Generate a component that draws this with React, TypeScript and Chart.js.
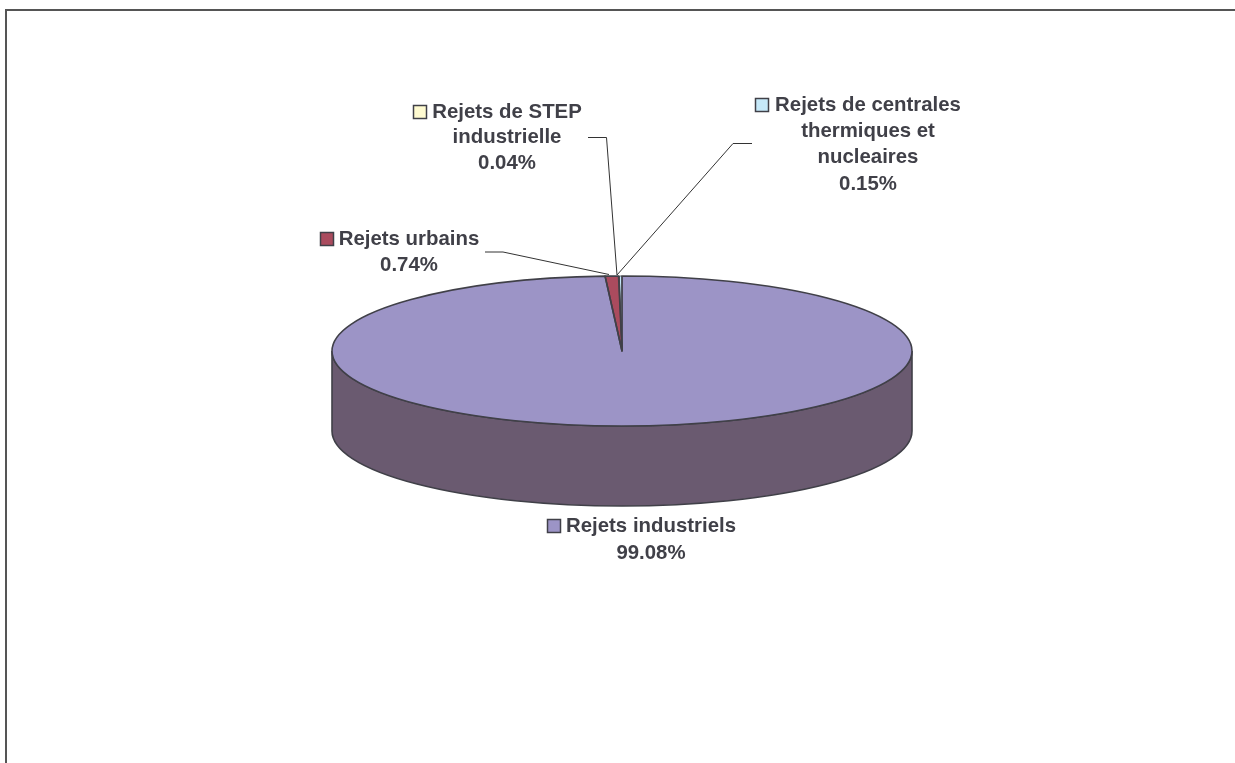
import React, { useEffect, useRef } from "react";
import { Chart, registerables } from "chart.js";

Chart.register(...registerables);

const categories = ["Rejets industriels", "Rejets urbains", "Rejets de STEP industrielle", "Rejets de centrales thermiques et nucleaires"];
const values = [99.08, 0.74, 0.04, 0.15];
const sliceColors = ["#9C94C6", "#AA4B5E", "#FFFBD1", "#C6E9F9"];
const sideColors = ["#6A5A70", "#6B2F3B", "#A09E84", "#7D939D"];
const labelLines = [
  ["Rejets industriels", "99.08%"],
  ["Rejets urbains", "0.74%"],
  ["Rejets de STEP", "industrielle", "0.04%"],
  ["Rejets de centrales", "thermiques et", "nucleaires", "0.15%"],
];

const CX = 622, CY = 351, RX = 290, RY = 75, DEPTH = 80;
const EDGE = "#404048";
const TEXT = "#404048";
const FONT = 'bold 20.4px "Liberation Sans"';
const labelLayout = [
  { cx: 651, y: 526, step: 27, keyX: 547 },
  { cx: 409, y: 239, step: 26, keyX: 320 },
  { cx: 507, y: 112, step: 25.5, keyX: 413 },
  { cx: 868, y: 105, step: 26.3, keyX: 755 },
];
const leaders = [
  null,
  [[485, 252], [503, 252], [609, 274.5]],
  [[588, 137.5], [606.5, 137.5], [617, 275]],
  [[752, 143.5], [733, 143.5], [617, 275]],
];

const piePlugin = {
  id: "flatPie",
  beforeDraw(chart: any) {
    const ctx = chart.ctx;
    ctx.save();
    ctx.fillStyle = "#ffffff";
    ctx.fillRect(0, 0, chart.width, chart.height);
    ctx.strokeStyle = "#555555";
    ctx.lineWidth = 2;
    ctx.beginPath();
    ctx.moveTo(6, 763);
    ctx.lineTo(6, 10);
    ctx.lineTo(1235, 10);
    ctx.stroke();
    ctx.restore();
  },
  beforeDatasetsDraw(chart: any) {
    const ctx = chart.ctx;
    // extruded rim, drawn from each slice's own angles
    chart.getDatasetMeta(0).data.forEach((arc: any, i: number) => {
      const a0 = Math.max(arc.startAngle, 0);
      const a1 = Math.min(arc.endAngle, Math.PI);
      if (a1 <= a0) return;
      ctx.save();
      ctx.beginPath();
      ctx.ellipse(CX, CY, RX, RY, 0, a0, a1, false);
      ctx.ellipse(CX, CY + DEPTH, RX, RY, 0, a1, a0, true);
      ctx.closePath();
      ctx.fillStyle = sideColors[i];
      ctx.fill();
      ctx.strokeStyle = EDGE;
      ctx.lineWidth = 1.6;
      ctx.stroke();
      ctx.restore();
    });
    ctx.save();
    ctx.translate(CX, CY);
    ctx.scale(1, RY / RX);
    ctx.translate(-CX, -CY);
  },
  afterDatasetsDraw(chart: any) {
    const ctx = chart.ctx;
    ctx.restore();
    const arcs = chart.getDatasetMeta(0).data;
    // slice outlines at an even pen width
    arcs.forEach((arc: any) => {
      ctx.save();
      ctx.beginPath();
      ctx.moveTo(CX, CY);
      ctx.ellipse(CX, CY, RX, RY, 0, arc.startAngle, arc.endAngle, false);
      ctx.closePath();
      ctx.strokeStyle = EDGE;
      ctx.lineWidth = arc.endAngle - arc.startAngle < 0.02 ? 0.8 : 1.6;
      ctx.lineJoin = "round";
      ctx.stroke();
      ctx.restore();
    });
    // leader lines
    ctx.save();
    ctx.strokeStyle = "#333333";
    ctx.lineWidth = 1;
    leaders.forEach((pts) => {
      if (!pts) return;
      ctx.beginPath();
      pts.forEach((p, k) => (k ? ctx.lineTo(p[0], p[1]) : ctx.moveTo(p[0], p[1])));
      ctx.stroke();
    });
    ctx.restore();
    // data labels with legend keys
    ctx.save();
    ctx.font = FONT;
    ctx.textAlign = "center";
    ctx.textBaseline = "middle";
    labelLines.forEach((lines, i) => {
      const l = labelLayout[i];
      ctx.fillStyle = TEXT;
      lines.forEach((t, k) => ctx.fillText(t, l.cx, l.y + k * l.step));
      ctx.fillStyle = sliceColors[i];
      ctx.fillRect(l.keyX + 0.5, l.y - 6.5, 13, 13);
      ctx.strokeStyle = EDGE;
      ctx.lineWidth = 1.5;
      ctx.strokeRect(l.keyX + 0.5, l.y - 6.5, 13, 13);
    });
    ctx.restore();
  },
};

export default function App() {
  const ref = useRef<HTMLCanvasElement>(null);
  useEffect(() => {
    document.body.style.margin = "0";
    const chart = new Chart(ref.current!, {
      type: "pie",
      data: {
        labels: categories,
        datasets: [{ data: values, backgroundColor: sliceColors, borderWidth: 0 }],
      },
      options: {
        responsive: false,
        animation: false,
        layout: { padding: { left: CX - RX, right: 1235 - CX - RX, top: CY - RX, bottom: 763 - CY - RX } },
        plugins: { legend: { display: false }, tooltip: { enabled: false }, title: { display: false } },
      },
      plugins: [piePlugin],
    } as any);
    return () => chart.destroy();
  }, []);
  return <canvas ref={ref} width={1235} height={763} style={{ display: "block", width: 1235, height: 763 }} />;
}
